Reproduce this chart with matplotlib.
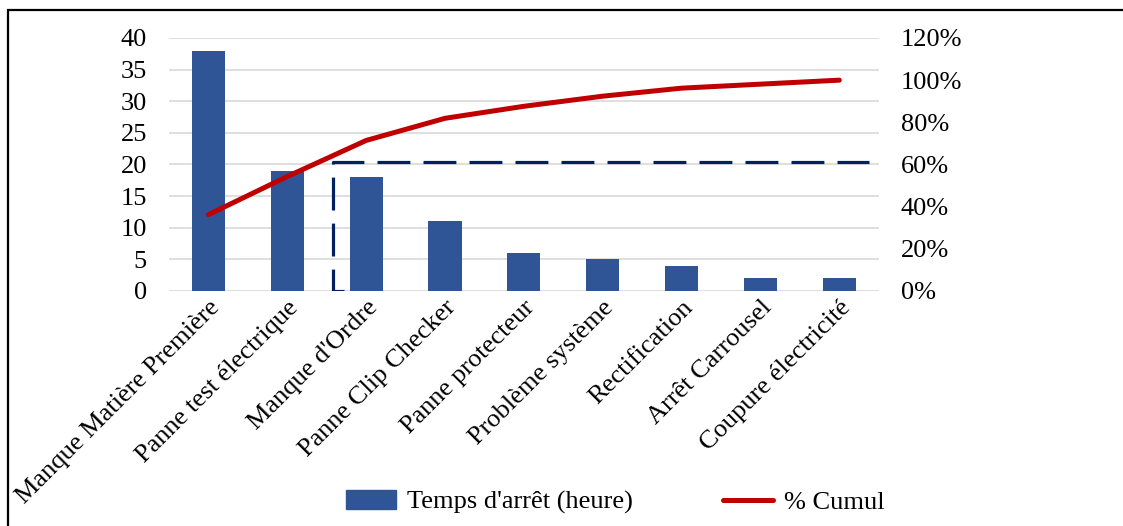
import matplotlib.pyplot as plt
from matplotlib.patches import Rectangle
from matplotlib.lines import Line2D
from matplotlib.ticker import PercentFormatter

plt.rcParams['font.family'] = ['Liberation Serif', 'DejaVu Serif']

# Pareto des arrêts
causes = ["Manque Matière Première", "Panne test électrique", "Manque d'Ordre",
          "Panne Clip Checker", "Panne protecteur", "Problème système",
          "Rectification", "Arrêt Carrousel", "Coupure électricité"]
heures = [38, 19, 18, 11, 6, 5, 4, 2, 2]
cumul = [0.362, 0.543, 0.714, 0.819, 0.876, 0.924, 0.962, 0.981, 1.0]

# seuil tracé en pointillés (position en catégories / en %)
seuil_x = [1.72, 1.58, 1.58, 8.38]
seuil_y = [0.0, 0.0, 0.613, 0.613]

BLEU = '#2F5597'
ROUGE = '#C00000'
MARINE = '#002060'
TAILLE = 19

fig = plt.figure(figsize=(11.23, 5.26), dpi=100)
ax = fig.add_axes([0.1505, 0.4468, 0.632, 0.481])
x = range(len(causes))
ax.bar(x, heures, width=0.42, color=BLEU, zorder=2)
ax.set_xlim(-0.5, len(causes) - 0.5)
ax.set_ylim(0, 40)
ax.set_yticks(range(0, 41, 5))
ax.yaxis.grid(True, color='#D9D9D9', linewidth=1.2, zorder=0)
ax.set_axisbelow(True)
for s in ax.spines.values():
    s.set_visible(False)
ax.tick_params(axis='both', length=0, labelsize=TAILLE)
ax.tick_params(axis='y', pad=16)
ax.tick_params(axis='x', pad=4)
ax.set_xticks(list(x))
ax.set_xticklabels(causes, rotation=45, ha='right', va='top',
                   rotation_mode='anchor')

ax2 = ax.twinx()
ax2.set_ylim(0, 1.2)
ax2.set_yticks([0, 0.2, 0.4, 0.6, 0.8, 1.0, 1.2])
ax2.yaxis.set_major_formatter(PercentFormatter(1.0, decimals=0))
for s in ax2.spines.values():
    s.set_visible(False)
ax2.tick_params(axis='y', length=0, labelsize=TAILLE, pad=16)
ax2.plot(seuil_x, seuil_y, color=MARINE, linewidth=2.3,
         dashes=(10.3, 4.1), zorder=3)
ax2.plot(list(x), cumul, color=ROUGE, linewidth=3.6,
         solid_capstyle='round', zorder=4)

handles = [Rectangle((0, 0), 1, 1, color=BLEU),
           Line2D([], [], color=ROUGE, linewidth=3.6, solid_capstyle='round')]
fig.legend(handles, ["Temps d'arrêt (heure)", "% Cumul"], loc='center',
           bbox_to_anchor=(0.548, 0.045), ncol=2, frameon=False,
           fontsize=TAILLE, handlelength=1.9, handletextpad=0.42,
           columnspacing=3.4)

# cadre du graphique
fig.patches.append(Rectangle((8 / 1123, -0.1), 1.2, 1 - 10 / 526 + 0.1,
                             transform=fig.transFigure, fill=False,
                             edgecolor='black', linewidth=1.6))

fig.savefig('out.png', dpi=100)
